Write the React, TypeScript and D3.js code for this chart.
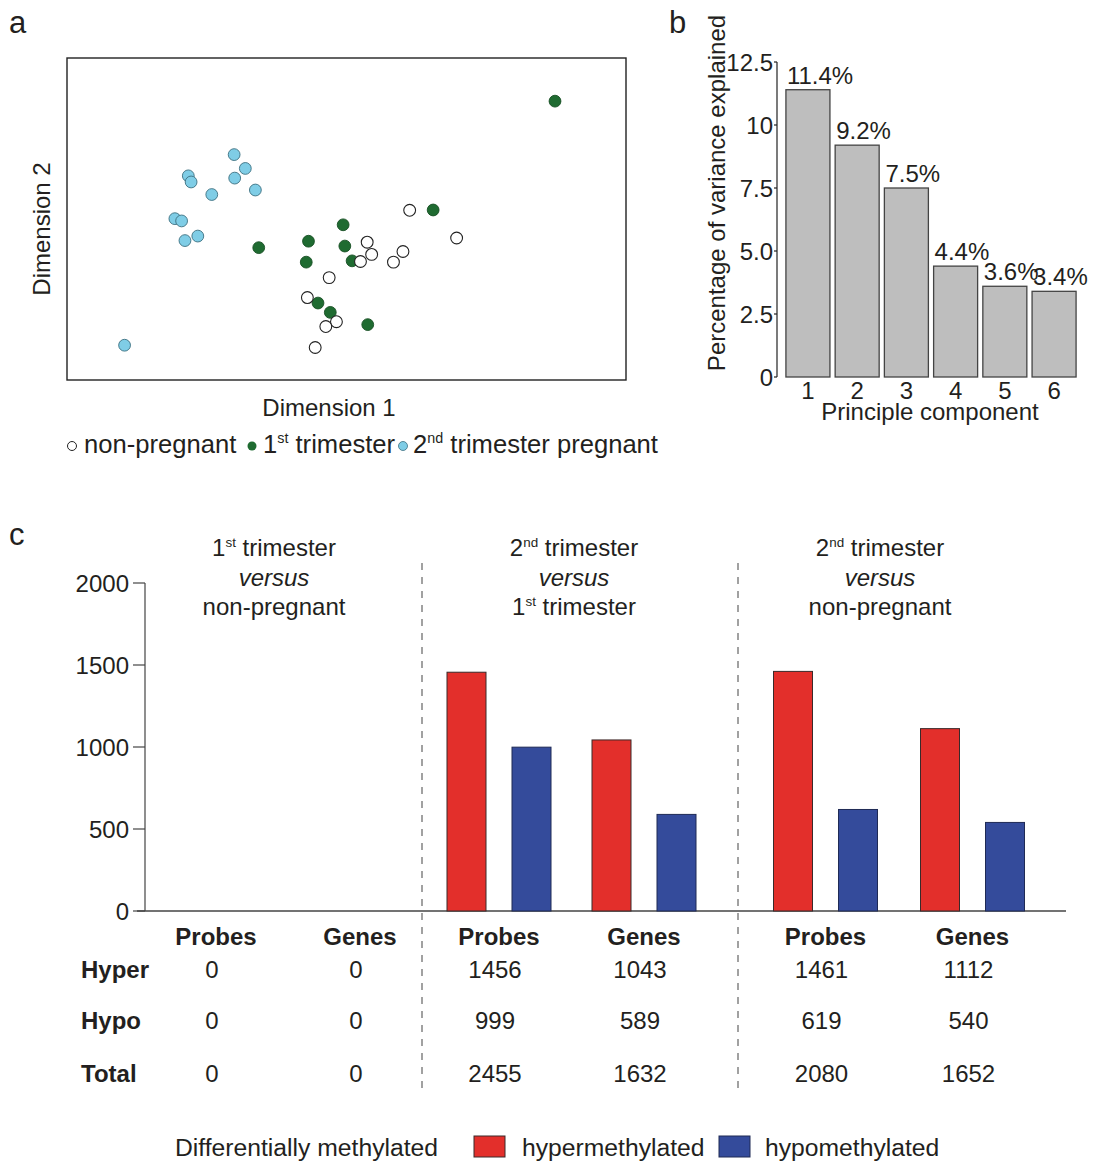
import React from "react";
import * as d3 from "d3";

// ---------- Panel a: MDS scatter (Dimension 1 / Dimension 2, arbitrary units) ----------
const nonPregnantX = [61.3, 69.7, 53.7, 54.5, 60.1, 58.4, 52.5, 46.9, 43.0, 48.2, 46.3, 44.4];
const nonPregnantY = [52.7, 44.1, 42.8, 39.0, 39.9, 36.6, 36.8, 31.8, 25.6, 18.1, 16.6, 10.1];
const firstTriX = [87.3, 65.5, 49.4, 43.2, 49.7, 34.3, 42.8, 51.0, 44.9, 47.1, 53.8];
const firstTriY = [86.6, 52.8, 48.2, 43.1, 41.6, 41.1, 36.6, 37.0, 23.9, 21.0, 17.2];
const secondTriX = [29.9, 31.9, 21.7, 22.2, 30.0, 25.9, 33.7, 19.3, 20.5, 23.4, 21.1, 10.3];
const secondTriY = [70.0, 65.7, 63.4, 61.5, 62.7, 57.6, 59.0, 50.1, 49.4, 44.7, 43.3, 10.8];

// ---------- Panel b: PCA variance ----------
const pcLabels = ["1", "2", "3", "4", "5", "6"];
const pcVariance = [11.4, 9.2, 7.5, 4.4, 3.6, 3.4];
const pcTicks = [0, 2.5, 5, 7.5, 10, 12.5];
const pcTickLabels = ["0", "2.5", "5.0", "7.5", "10", "12.5"];

// ---------- Panel c: differential methylation ----------
const comparisons = ["1st vs non", "2nd vs 1st", "2nd vs non"];
const featureTypes = ["Probes", "Genes"];
const hyperCounts = [
  [0, 0],
  [1456, 1043],
  [1461, 1112],
];
const hypoCounts = [
  [0, 0],
  [999, 589],
  [619, 540],
];
const cTicks = [0, 500, 1000, 1500, 2000];

const FONT = "'Liberation Sans', Arial, Helvetica, sans-serif";
const TXT = "#231f20";
const RED = "#e32f2b";
const BLUE = "#344b9b";

const Sup = ({ base, sup, rest, size = 24 }: { base: string; sup: string; rest: string; size?: number }) => (
  <>
    <tspan>{base}</tspan>
    <tspan fontSize={size * 0.56} dy={-size * 0.38}>{sup}</tspan>
    <tspan dy={size * 0.38}>{rest}</tspan>
  </>
);

export default function App() {
  // Panel a
  const ax = d3.scaleLinear().domain([0, 100]).range([67, 626]);
  const ay = d3.scaleLinear().domain([0, 100]).range([380, 58]);
  const pts = (xs: number[], ys: number[]) => xs.map((x, i) => ({ x, y: ys[i] }));
  const nonP = pts(nonPregnantX, nonPregnantY);
  const first = pts(firstTriX, firstTriY);
  const second = pts(secondTriX, secondTriY);

  // Panel b
  const bx = d3.scaleBand().domain(pcLabels).range([781, 1081]).paddingInner(0.106).paddingOuter(0.1);
  const by = d3.scaleLinear().domain([0, 12.5]).range([377, 62]);

  // Panel c
  const cy = d3.scaleLinear().domain([0, 2000]).range([911, 583]);
  const groupSpans: [number, number][] = [
    [144, 432],
    [426.5, 716.5],
    [752, 1046],
  ];
  const headingX = [274, 574, 880];
  const subScales = groupSpans.map((s) => d3.scalePoint().domain(featureTypes).range(s).padding(0.5));
  const barScale = (c: number) =>
    d3.scaleBand().domain(["hyper", "hypo"]).range([c - 52, c + 52]).paddingInner(0.4).paddingOuter(0);

  const headings = [
    { l1: ["1", "st", " trimester"], l3: null, l3text: "non-pregnant" },
    { l1: ["2", "nd", " trimester"], l3: ["1", "st", " trimester"], l3text: "" },
    { l1: ["2", "nd", " trimester"], l3: null, l3text: "non-pregnant" },
  ];

  const LA = 25.6; // legend a font size
  const LC = 24.7; // legend c font size

  return (
    <svg
      width={1095}
      height={1161}
      style={{ position: "absolute", left: 0, top: 0, background: "#fff" }}
      fontFamily={FONT}
    >
      <rect x={0} y={0} width={1095} height={1161} fill="#fff" />
      {/* panel letters */}
      <text x={9} y={33} fontSize={31} fill={TXT}>a</text>
      <text x={669} y={33} fontSize={31} fill={TXT}>b</text>
      <text x={9} y={545} fontSize={31} fill={TXT}>c</text>

      {/* ===== Panel a ===== */}
      <rect x={67} y={58} width={559} height={322} fill="none" stroke="#222" strokeWidth={1.4} />
      {second.map((p, i) => (
        <circle key={"s" + i} cx={ax(p.x)} cy={ay(p.y)} r={5.9} fill="#7fcde6" stroke="#3b6f80" strokeWidth={0.9} />
      ))}
      {first.map((p, i) => (
        <circle key={"f" + i} cx={ax(p.x)} cy={ay(p.y)} r={5.9} fill="#1f6b31" stroke="#174f24" strokeWidth={0.9} />
      ))}
      {nonP.map((p, i) => (
        <circle key={"n" + i} cx={ax(p.x)} cy={ay(p.y)} r={5.9} fill="#fff" stroke="#222" strokeWidth={1.1} />
      ))}
      <text x={329} y={416} fontSize={24} textAnchor="middle" fill={TXT}>Dimension 1</text>
      <text transform="translate(50,229) rotate(-90)" fontSize={24} textAnchor="middle" fill={TXT}>Dimension 2</text>
      {/* legend a */}
      <circle cx={72} cy={446} r={4.5} fill="#fff" stroke="#222" strokeWidth={1} />
      <text x={84} y={453} fontSize={LA} fill={TXT}>non-pregnant</text>
      <circle cx={252} cy={446} r={4.5} fill="#1f6b31" />
      <text x={263} y={453} fontSize={LA} fill={TXT}>
        <Sup base="1" sup="st" rest=" trimester" size={LA} />
      </text>
      <circle cx={403} cy={446} r={4.5} fill="#7fcde6" stroke="#3b6f80" strokeWidth={0.8} />
      <text x={413} y={453} fontSize={LA} fill={TXT}>
        <Sup base="2" sup="nd" rest=" trimester pregnant" size={LA} />
      </text>

      {/* ===== Panel b ===== */}
      <line x1={777} x2={777} y1={by(12.5)} y2={by(0)} stroke="#222" strokeWidth={1.2} />
      {pcTicks.map((t, i) => (
        <g key={"bt" + i}>
          <line x1={774} x2={777} y1={by(t)} y2={by(t)} stroke="#222" strokeWidth={1.2} />
          <text x={773} y={by(t) + 8.5} fontSize={24} textAnchor="end" fill={TXT}>{pcTickLabels[i]}</text>
        </g>
      ))}
      {pcLabels.map((l, i) => (
        <g key={"pb" + l}>
          <rect
            x={bx(l)!}
            y={by(pcVariance[i])}
            width={bx.bandwidth()}
            height={by(0) - by(pcVariance[i])}
            fill="#bebebe"
            stroke="#444"
            strokeWidth={1.3}
          />
          <text x={bx(l)! + 1} y={by(pcVariance[i]) - 6} fontSize={24} fill={TXT}>{pcVariance[i].toFixed(1)}%</text>
          <text x={bx(l)! + bx.bandwidth() / 2} y={399} fontSize={24} textAnchor="middle" fill={TXT}>{l}</text>
        </g>
      ))}
      <text x={930} y={420} fontSize={24} textAnchor="middle" fill={TXT}>Principle component</text>
      <text transform="translate(725,193) rotate(-90)" fontSize={24} textAnchor="middle" fill={TXT}>
        Percentage of variance explained
      </text>

      {/* ===== Panel c ===== */}
      <line x1={145} x2={145} y1={cy(2000)} y2={cy(0)} stroke="#444" strokeWidth={1.2} />
      {cTicks.map((t) => (
        <g key={"ct" + t}>
          <line x1={133} x2={145} y1={cy(t)} y2={cy(t)} stroke="#444" strokeWidth={1.2} />
          <text x={129} y={cy(t) + 8.5} fontSize={24} textAnchor="end" fill={TXT}>{t}</text>
        </g>
      ))}
      <line x1={137} x2={1066} y1={cy(0)} y2={cy(0)} stroke="#444" strokeWidth={1.3} />
      {[422, 738].map((x) => (
        <line key={"dv" + x} x1={x} x2={x} y1={563} y2={1092} stroke="#555" strokeWidth={1.1} strokeDasharray="7,7" />
      ))}
      {headings.map((h, gi) => (
        <g key={"hd" + gi} fontSize={24} fill={TXT} textAnchor="middle">
          <text x={headingX[gi]} y={556}>
            <Sup base={h.l1[0]} sup={h.l1[1]} rest={h.l1[2]} />
          </text>
          <text x={headingX[gi]} y={586} fontStyle="italic">versus</text>
          <text x={headingX[gi]} y={615}>
            {h.l3 ? <Sup base={h.l3[0]} sup={h.l3[1]} rest={h.l3[2]} /> : h.l3text}
          </text>
        </g>
      ))}
      {comparisons.map((c, gi) =>
        featureTypes.map((f, fi) => {
          const cx = subScales[gi](f)!;
          const bs = barScale(cx);
          const hyper = hyperCounts[gi][fi];
          const hypo = hypoCounts[gi][fi];
          return (
            <g key={c + f}>
              {hyper > 0 && (
                <rect x={bs("hyper")!} y={cy(hyper)} width={bs.bandwidth()} height={cy(0) - cy(hyper)} fill={RED} stroke="#3a2a2a" strokeWidth={1} />
              )}
              {hypo > 0 && (
                <rect x={bs("hypo")!} y={cy(hypo)} width={bs.bandwidth()} height={cy(0) - cy(hypo)} fill={BLUE} stroke="#1f2a55" strokeWidth={1} />
              )}
              <text x={cx} y={945} fontSize={24} fontWeight="bold" textAnchor="middle" fill={TXT}>{f}</text>
              <text x={cx - 4} y={978} fontSize={24} textAnchor="middle" fill={TXT}>{hyper}</text>
              <text x={cx - 4} y={1029} fontSize={24} textAnchor="middle" fill={TXT}>{hypo}</text>
              <text x={cx - 4} y={1082} fontSize={24} textAnchor="middle" fill={TXT}>{hyper + hypo}</text>
            </g>
          );
        })
      )}
      <text x={81} y={978} fontSize={24} fontWeight="bold" fill={TXT}>Hyper</text>
      <text x={81} y={1029} fontSize={24} fontWeight="bold" fill={TXT}>Hypo</text>
      <text x={81} y={1082} fontSize={24} fontWeight="bold" fill={TXT}>Total</text>

      {/* legend c */}
      <text x={175} y={1156} fontSize={LC} fill={TXT}>Differentially methylated</text>
      <rect x={474} y={1136} width={31} height={21} fill={RED} stroke="#3a2a2a" strokeWidth={1} />
      <text x={522} y={1156} fontSize={LC} fill={TXT}>hypermethylated</text>
      <rect x={719} y={1136} width={31} height={21} fill={BLUE} stroke="#1f2a55" strokeWidth={1} />
      <text x={765} y={1156} fontSize={LC} fill={TXT}>hypomethylated</text>
    </svg>
  );
}
